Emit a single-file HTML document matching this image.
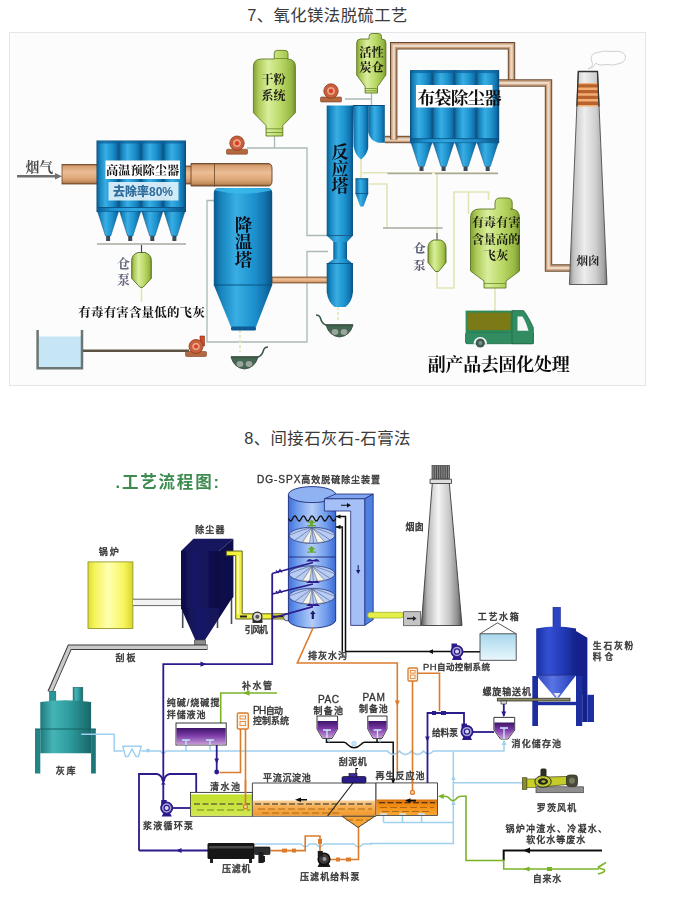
<!DOCTYPE html>
<html lang="zh-CN"><head><meta charset="utf-8"><title>脱硫工艺</title>
<style>
html,body{margin:0;padding:0;background:#fff;}
body{width:693px;height:912px;overflow:hidden;position:relative;font-family:'Liberation Sans','Noto Sans CJK SC',sans-serif;}
svg{position:absolute;left:0;top:0;display:block;}
.t{font-family:'Liberation Sans','Noto Sans CJK SC',sans-serif;}
.s{font-family:'Liberation Serif','Noto Serif CJK SC',serif;font-weight:700;}
.h{position:absolute;left:0;width:655px;text-align:center;font-size:16.4px;color:#3a3a3a;letter-spacing:0.4px;white-space:nowrap;line-height:20px;}
</style></head><body>
<div class="h" style="top:5px;">7、氧化镁法脱硫工艺</div>
<div class="h" style="top:428px;">8、间接石灰石-石膏法</div>
<svg width="693" height="912" viewBox="0 0 693 912">
<defs>
<linearGradient id="bl" x1="0" x2="1" y1="0" y2="0"><stop offset="0" stop-color="#0b5a8c"/><stop offset="0.12" stop-color="#1682bc"/><stop offset="0.38" stop-color="#38aee4"/><stop offset="0.7" stop-color="#1c90cc"/><stop offset="0.9" stop-color="#106ea8"/><stop offset="1" stop-color="#0a507e"/></linearGradient>
<linearGradient id="bl2" x1="0" x2="1" y1="0" y2="0"><stop offset="0" stop-color="#0b5e92"/><stop offset="0.15" stop-color="#1a8ecc"/><stop offset="0.4" stop-color="#30a8e2"/><stop offset="0.75" stop-color="#1a88c6"/><stop offset="1" stop-color="#0a5486"/></linearGradient>
<linearGradient id="gr" x1="0" x2="1" y1="0" y2="0"><stop offset="0" stop-color="#84a036"/><stop offset="0.12" stop-color="#adca58"/><stop offset="0.35" stop-color="#d8ee9c"/><stop offset="0.65" stop-color="#bad866"/><stop offset="0.9" stop-color="#98b844"/><stop offset="1" stop-color="#76922c"/></linearGradient>
<linearGradient id="br" x1="0" x2="0" y1="0" y2="1"><stop offset="0" stop-color="#94643c"/><stop offset="0.1" stop-color="#d8a072"/><stop offset="0.4" stop-color="#ecbd94"/><stop offset="0.7" stop-color="#dfa87a"/><stop offset="0.9" stop-color="#c38c5c"/><stop offset="1" stop-color="#86562e"/></linearGradient>
<linearGradient id="ch" x1="0" x2="1" y1="0" y2="0"><stop offset="0" stop-color="#8a8a8a"/><stop offset="0.12" stop-color="#c4c4c4"/><stop offset="0.4" stop-color="#ededed"/><stop offset="0.7" stop-color="#cfcfcf"/><stop offset="0.92" stop-color="#a2a2a2"/><stop offset="1" stop-color="#6a6a6a"/></linearGradient>
<filter id="soft" x="0" y="0" width="693" height="912" filterUnits="userSpaceOnUse"><feGaussianBlur stdDeviation="0.5"/></filter>
</defs>

<rect x="9.5" y="32.5" width="636" height="353" fill="#fdfcfd" stroke="#e7e6e6" stroke-width="1"/>
<g id="d1" filter="url(#soft)">
<g fill="none" stroke="#a9b9b4" stroke-width="1.3">
<path d="M214 200.5H207V342H307V251.5H328"/>
<path d="M247 148H307V235.5H328"/>
<path d="M274.5 136V148"/>
<path d="M345 99H371.5V106 M371.5 92V106"/>
</g>
<g fill="none" stroke="#e3e4b4" stroke-width="1.6">
<path d="M361 158V179 M362 172.800H498 M437 172.5V238 M369 184H387V228 M437 271V288H454V192H488.5V200 M468.5 192V214 M495 288V311"/>
<path d="M141.5 286V302"/>
<path d="M240 330V352 M338 307V322" stroke-dasharray="3 2"/>
</g>
<g fill="none" stroke="#a8a8a0" stroke-width="1.4">
<path d="M97 244H186 M387.5 173.5H432 M435 173.5H498 M383 228H442.5"/>
</g>
<text x="25.500" y="171.600" class="s" font-size="13.8" fill="#4a4a4a">烟气</text>
<path d="M17 176.300H57" stroke="#6e6e6e" stroke-width="2.6"/><path d="M55 173L62 176.300L55 179.600Z" fill="#6e6e6e"/>
<rect x="62" y="164.5" width="36" height="19.5" fill="url(#br)" stroke="#6a4424" stroke-width="0.8"/>
<rect x="185" y="166" width="8" height="18" fill="url(#br)" stroke="#6a4424" stroke-width="0.8"/>
<path d="M191 163.500H268Q272 163.500 272 168V181Q272 186 268 186H191Z" fill="url(#br)" stroke="#6a4424" stroke-width="0.9"/>
<path d="M214.5 163.5V186.500" stroke="#6a4424" stroke-width="0.8"/>
<rect x="272" y="277" width="56" height="6" fill="url(#br)" stroke="#6a4424" stroke-width="0.7"/>
<rect x="96.5" y="140.5" width="89.5" height="71.5" fill="#0a4a7c"/>
<rect x="97.0" y="141" width="22.1" height="70.5" fill="url(#bl)"/>
<rect x="119.1" y="141" width="22.1" height="70.5" fill="url(#bl)"/>
<rect x="141.2" y="141" width="22.1" height="70.5" fill="url(#bl)"/>
<rect x="163.4" y="141" width="22.1" height="70.5" fill="url(#bl)"/>
<rect x="97" y="141" width="88.5" height="2.5" fill="#0d5f9a" opacity="0.7"/>
<rect x="97" y="207.5" width="88.5" height="4" fill="url(#bl2)"/>
<path d="M97 207.5H185.5" stroke="#0a4a7c" stroke-width="0.8"/>
<path d="M97.6 211.5H118.5L110.7 236H105.5Z" fill="url(#bl)" stroke="#0a4a7c" stroke-width="0.5"/>
<rect x="106.1" y="236" width="4" height="5" fill="#3b4a58"/>
<path d="M119.7 211.5H140.7L132.8 236H127.6Z" fill="url(#bl)" stroke="#0a4a7c" stroke-width="0.5"/>
<rect x="128.2" y="236" width="4" height="5" fill="#3b4a58"/>
<path d="M141.8 211.5H162.8L154.9 236H149.7Z" fill="url(#bl)" stroke="#0a4a7c" stroke-width="0.5"/>
<rect x="150.3" y="236" width="4" height="5" fill="#3b4a58"/>
<path d="M164.0 211.5H184.9L177.0 236H171.8Z" fill="url(#bl)" stroke="#0a4a7c" stroke-width="0.5"/>
<rect x="172.4" y="236" width="4" height="5" fill="#3b4a58"/>
<rect x="105.5" y="160.5" width="74.5" height="18.5" fill="#fff"/>
<text x="142.6" y="174.6" text-anchor="middle" class="s" font-size="12.2" fill="#111">高温预除尘器</text>
<rect x="108.5" y="182" width="70" height="18.5" fill="#dff0fa" opacity="0.93"/>
<text x="143" y="196.2" text-anchor="middle" class="t" font-weight="900" font-size="12" fill="#2e6c9c">去除率80%</text>
<path d="M138.0 252.5H145.0Q151.3 254.5 151.3 260.5V278.3L143.0 287.3H140.0L131.7 278.3V260.5Q131.7 254.5 138.0 252.5Z" fill="url(#gr)" stroke="#4f6a22" stroke-width="0.9" stroke-linejoin="round"/>
<path d="M141.5 245V253" stroke="#445" stroke-width="1.2"/>
<text x="123.500" y="267.700" text-anchor="middle" class="s" font-weight="900" font-size="13" fill="#666a7e">仓</text><text x="123.500" y="284" text-anchor="middle" class="s" font-weight="900" font-size="13" fill="#666a7e">泵</text>
<text x="78.300" y="317.300" class="s" font-size="12.5" fill="#111" textLength="126.500" lengthAdjust="spacing">有毒有害含量低的飞灰</text>
<rect x="38.500" y="336.500" width="43" height="31" fill="#c6e6f6"/>
<path d="M37.600 330V368.300H82V330" fill="none" stroke="#6c7474" stroke-width="2.5"/>
<path d="M83 350.800H189" stroke="#5c5344" stroke-width="2.5"/>
<rect x="226.5" y="149.2" width="21" height="5" rx="1" fill="#b4683e" stroke="#7a4226" stroke-width="0.6"/>
<circle cx="237" cy="143.2" r="7.2" fill="#c9603c" stroke="#8a3a1c" stroke-width="0.8"/>
<circle cx="237" cy="143.2" r="4.5" fill="#eaa384" stroke="#b8482a" stroke-width="0.7"/>
<circle cx="237" cy="143.2" r="2.2" fill="#dc4028"/>
<rect x="320.5" y="97.0" width="21" height="5" rx="1" fill="#b4683e" stroke="#7a4226" stroke-width="0.6"/>
<circle cx="331" cy="91" r="7.2" fill="#c9603c" stroke="#8a3a1c" stroke-width="0.8"/>
<circle cx="331" cy="91" r="4.5" fill="#eaa384" stroke="#b8482a" stroke-width="0.7"/>
<circle cx="331" cy="91" r="2.2" fill="#dc4028"/>
<path d="M200 336H204.500V346H200Z" fill="#cf4a2a" stroke="#8a2c14" stroke-width="0.6"/>
<rect x="185.5" y="351.5" width="21" height="5" rx="1" fill="#b4683e" stroke="#7a4226" stroke-width="0.6"/>
<circle cx="196" cy="346.5" r="7" fill="#c9603c" stroke="#8a3a1c" stroke-width="0.8"/>
<circle cx="196" cy="346.5" r="4.3" fill="#eaa384" stroke="#b8482a" stroke-width="0.7"/>
<circle cx="196" cy="346.5" r="2.1" fill="#dc4028"/>
<path d="M213.800 193Q213.800 188 219 188H267Q272.200 188 272.200 193V285H213.800Z" fill="url(#bl)"/>
<path d="M215 190.500Q215 188.300 219 188.300H267Q271 188.300 271 190.500Q243 197 215 190.500Z" fill="#3ab8ea" opacity="0.85"/>
<path d="M213.800 285H272.200L256 327H231Z" fill="url(#bl)"/>
<path d="M213.800 285H272.200" stroke="#0a4a7c" stroke-width="0.9"/>
<rect x="231" y="326.500" width="25" height="4" rx="1.5" fill="#0c5a94"/>
<text x="243.5" y="230.5" text-anchor="middle" class="s" font-size="17.5" fill="#0c0c14">降</text>
<text x="243.5" y="248.1" text-anchor="middle" class="s" font-size="17.5" fill="#0c0c14">温</text>
<text x="243.5" y="265.7" text-anchor="middle" class="s" font-size="17.5" fill="#0c0c14">塔</text>
<path d="M231 357H258Q262 356 264 349Q265 347 268 347" fill="none" stroke="#3e5848" stroke-width="1.6"/>
<path d="M231 357H258Q255 368 244.5 369Q234 368 231 357Z" fill="#456652" stroke="#2c4034" stroke-width="0.8"/>
<ellipse cx="240" cy="364" rx="3.4" ry="3" fill="#9aa49c"/><ellipse cx="249" cy="364" rx="3.4" ry="3" fill="#9aa49c"/>
<path d="M353 325H326Q322 324 320 317Q319 315 316 315" fill="none" stroke="#3e5848" stroke-width="1.6"/>
<path d="M353 325H326Q329 336 339.5 337Q350 336 353 325Z" fill="#456652" stroke="#2c4034" stroke-width="0.8"/>
<ellipse cx="335" cy="332" rx="3.4" ry="3" fill="#9aa49c"/><ellipse cx="344" cy="332" rx="3.4" ry="3" fill="#9aa49c"/>
<rect x="326.7" y="105.5" width="26.3" height="130" fill="url(#bl)"/>
<path d="M326.7 235.5H353L347 242V259L353 264H326.7L333.5 259V242Z" fill="url(#bl)"/>
<rect x="333.5" y="242" width="13.5" height="17" fill="url(#bl)"/>
<path d="M326.7 263.5H353V292Q352 302 345.5 307H334.5Q328 302 326.7 292Z" fill="url(#bl)"/>
<path d="M326.7 235.5H353 M326.7 263.5H353" stroke="#0a4a7c" stroke-width="0.8"/>
<text x="340" y="158.0" text-anchor="middle" class="s" font-size="17" fill="#0c0c14">反</text>
<text x="340" y="175.2" text-anchor="middle" class="s" font-size="17" fill="#0c0c14">应</text>
<text x="340" y="192.4" text-anchor="middle" class="s" font-size="17" fill="#0c0c14">塔</text>
<path d="M353 105.5H368.2V148Q367 155 361 159.5Q355 155 353.5 146Z" fill="url(#bl)"/>
<path d="M368.2 105.5H384.8V142.7H378Q370 141 368.2 132Z" fill="url(#bl)"/>
<path d="M353 105.5H384.8" stroke="#0a4a7c" stroke-width="1"/>
<rect x="355.5" y="178.4" width="12.7" height="15.5" fill="url(#bl)"/><path d="M355.5 193.5H368.2L363.5 206.5H360.2Z" fill="url(#bl)"/><path d="M355.5 178.8H368.2 M355.5 193.5H368.2" stroke="#0a4a7c" stroke-width="0.8"/>
<path d="M274.2 59V53.4Q274.2 50.4 277.2 50.4H284.99999999999994Q287.99999999999994 50.4 287.99999999999994 53.4V59L287.4 59Q295.4 59 295.4 67V112.7L282.79999999999995 125.5V136H266.0V125.5L253.39999999999998 112.7V67Q253.39999999999998 59 261.4 59Z" fill="url(#gr)" stroke="#5f7b22" stroke-width="0.9"/>
<path d="M274.2 58.5H288 M266 128.800H282.8 M266 132.500H282.8" stroke="#6a8a28" stroke-width="0.8" fill="none"/>
<text x="273.600" y="83.600" text-anchor="middle" class="s" font-size="12" fill="#1a1a10">干粉</text><text x="273.600" y="99.800" text-anchor="middle" class="s" font-size="12" fill="#1a1a10">系统</text>
<path d="M369.1 39V36.5Q369.1 33.5 372.1 33.5H378.5Q381.5 33.5 381.5 36.5V39L381.90000000000003 39Q385.90000000000003 39 385.90000000000003 43V75L377.5 86.5V93H365.1V86.5L356.7 75V43Q356.7 39 360.7 39Z" fill="url(#gr)" stroke="#5f7b22" stroke-width="0.9"/>
<path d="M365.1 88.5H377.5 M365.1 90.800H377.5" stroke="#6a8a28" stroke-width="0.8" fill="none"/>
<text x="371.600" y="57" text-anchor="middle" class="s" font-size="12.3" fill="#1a1a10">活性</text><text x="371.600" y="72.300" text-anchor="middle" class="s" font-size="12.3" fill="#1a1a10">炭仓</text>
<path d="M385 139.5H411" fill="none" stroke="#6a4a30" stroke-width="7.4" stroke-linejoin="miter"/>
<path d="M385 139.5H411" fill="none" stroke="#c99f7c" stroke-width="5.4" stroke-linejoin="miter"/>
<path d="M385 139.5H411" fill="none" stroke="#ecd9c6" stroke-width="2.4000000000000004" stroke-linejoin="miter"/>
<path d="M393.700 139.500V45.700H511.5V84" fill="none" stroke="#6a4a30" stroke-width="7.4" stroke-linejoin="miter"/>
<path d="M393.700 139.500V45.700H511.5V84" fill="none" stroke="#c99f7c" stroke-width="5.4" stroke-linejoin="miter"/>
<path d="M393.700 139.500V45.700H511.5V84" fill="none" stroke="#ecd9c6" stroke-width="2.4000000000000004" stroke-linejoin="miter"/>
<path d="M498 83H548.500V268H571" fill="none" stroke="#6a4a30" stroke-width="7.4" stroke-linejoin="miter"/>
<path d="M498 83H548.500V268H571" fill="none" stroke="#c99f7c" stroke-width="5.4" stroke-linejoin="miter"/>
<path d="M498 83H548.500V268H571" fill="none" stroke="#ecd9c6" stroke-width="2.4000000000000004" stroke-linejoin="miter"/>
<rect x="410.0" y="70.1" width="89.2" height="73.1" fill="#0a4a7c"/>
<rect x="410.5" y="70.6" width="22.1" height="72.1" fill="url(#bl)"/>
<rect x="432.6" y="70.6" width="22.1" height="72.1" fill="url(#bl)"/>
<rect x="454.6" y="70.6" width="22.1" height="72.1" fill="url(#bl)"/>
<rect x="476.6" y="70.6" width="22.1" height="72.1" fill="url(#bl)"/>
<rect x="410.5" y="70.6" width="88.2" height="2.5" fill="#0d5f9a" opacity="0.7"/>
<rect x="410.5" y="138.7" width="88.2" height="4" fill="url(#bl2)"/>
<path d="M410.5 138.7H498.7" stroke="#0a4a7c" stroke-width="0.8"/>
<path d="M411.1 142.7H431.9L424.1 166.5H418.9Z" fill="url(#bl)" stroke="#0a4a7c" stroke-width="0.5"/>
<rect x="419.5" y="166.5" width="4" height="4.5" fill="#3b4a58"/>
<path d="M433.2 142.7H454.0L446.2 166.5H441.0Z" fill="url(#bl)" stroke="#0a4a7c" stroke-width="0.5"/>
<rect x="441.6" y="166.5" width="4" height="4.5" fill="#3b4a58"/>
<path d="M455.2 142.7H476.1L468.2 166.5H463.0Z" fill="url(#bl)" stroke="#0a4a7c" stroke-width="0.5"/>
<rect x="463.6" y="166.5" width="4" height="4.5" fill="#3b4a58"/>
<path d="M477.2 142.7H498.1L490.3 166.5H485.1Z" fill="url(#bl)" stroke="#0a4a7c" stroke-width="0.5"/>
<rect x="485.7" y="166.5" width="4" height="4.5" fill="#3b4a58"/>
<rect x="416" y="85" width="76.500" height="22.500" fill="#fff"/>
<text x="417.500" y="103.800" class="s" font-size="17.6" fill="#111" textLength="84" lengthAdjust="spacing">布袋除尘器</text>
<path d="M588 69Q594 66 592 62Q589 56 595 53Q604 50 612 51.500Q622 50 625 55Q627 61 620 63.500Q612 66 606 64.500Q599 66 596 63Q594 68 588 69Z" fill="#fdfdfd" stroke="#cfcfcf" stroke-width="1"/>
<path d="M578.3 71.5H597.5L607 284.5H569.4Z" fill="url(#ch)" stroke="#4e4e4e" stroke-width="0.9"/>
<path d="M577.800 83H598V106.500H576.900Z" fill="#f2ae74"/>
<path d="M577.8 84.2H598.1V87.5H577.6Z" fill="#b9622e"/>
<path d="M577.5 90H598.3V93.3H577.4Z" fill="#b9622e"/>
<path d="M577.3 95.8H598.6V99.1H577.1Z" fill="#b9622e"/>
<path d="M577.0 101.6H598.8V104.89999999999999H576.9Z" fill="#b9622e"/>
<path d="M576.900 106.500L578.3 71.5H597.5L599 106.500" fill="none" stroke="#333" stroke-width="1.3"/>
<text x="588" y="264.5" text-anchor="middle" class="s" font-size="11.5" fill="#222">烟囱</text>
<path d="M495.0 209V203Q495.0 198 500.0 198H507.20000000000005Q512.2 198 512.2 203V209L510.5 209Q519.5 209 519.5 218V271L506 281V288H484V281L470.5 271V218Q470.5 209 479.5 209Z" fill="url(#gr)" stroke="#5f7b22" stroke-width="0.9"/>
<path d="M484 283.5H506" stroke="#6a8a28" stroke-width="0.8" fill="none"/>
<text x="496" y="226.8" text-anchor="middle" class="s" font-size="12.2" fill="#1a1a10">有毒有害</text>
<text x="496" y="243.6" text-anchor="middle" class="s" font-size="12.2" fill="#1a1a10">含量高的</text>
<text x="496" y="260.4" text-anchor="middle" class="s" font-size="12.2" fill="#1a1a10">飞灰</text>
<path d="M433.5 240H440.5Q446 242 446 248V262.5L438.5 271.5H435.5L428 262.5V248Q428 242 433.5 240Z" fill="url(#gr)" stroke="#4f6a22" stroke-width="0.9" stroke-linejoin="round"/>
<path d="M437 233V240" stroke="#445" stroke-width="1"/>
<text x="419.5" y="253.300" text-anchor="middle" class="s" font-weight="900" font-size="12.5" fill="#5c5c74">仓</text><text x="419.5" y="270" text-anchor="middle" class="s" font-weight="900" font-size="12.5" fill="#5c5c74">泵</text>
<rect x="465.600" y="332" width="67.700" height="11.700" rx="1.5" fill="#318c62" stroke="#1f6a46" stroke-width="0.8"/>
<rect x="466.600" y="311.600" width="45" height="19.500" fill="#7c7a14" stroke="#2f8a5a" stroke-width="2"/>
<path d="M512 310.600H523.600Q528 316 533.300 327.500V343.700H512Z" fill="#318c62" stroke="#1f6a46" stroke-width="0.8"/>
<path d="M517.500 316.600H522.500Q526 322 528.500 330.700H517.500Z" fill="#f4f8f6"/>
<path d="M473.500 343.700A6.800 6.800 0 0 1 487.100 343.700Z" fill="#fdfcfd"/><circle cx="480.300" cy="343" r="4.600" fill="#3c5a50"/><circle cx="480.300" cy="343" r="2" fill="#7a9488"/>
<text x="498.7" y="371" text-anchor="middle" class="s" font-size="18" fill="#111" textLength="142" lengthAdjust="spacing">副产品去固化处理</text>
</g>
<defs>
<linearGradient id="ye" x1="0" x2="1" y1="0" y2="0"><stop offset="0" stop-color="#dcdc38"/><stop offset="0.14" stop-color="#f4f458"/><stop offset="0.45" stop-color="#ffffb2"/><stop offset="0.8" stop-color="#f6f65c"/><stop offset="1" stop-color="#d6d62e"/></linearGradient>
<linearGradient id="nv" x1="0" x2="1" y1="0" y2="0"><stop offset="0" stop-color="#0d0d42"/><stop offset="0.35" stop-color="#18186a"/><stop offset="0.7" stop-color="#121256"/><stop offset="1" stop-color="#0c0c40"/></linearGradient>
<linearGradient id="tw" x1="0" x2="1" y1="0" y2="0"><stop offset="0" stop-color="#3e6fd8"/><stop offset="0.18" stop-color="#6c9aec"/><stop offset="0.5" stop-color="#b4cdf8"/><stop offset="0.8" stop-color="#6f9cec"/><stop offset="1" stop-color="#3a68d2"/></linearGradient>
<linearGradient id="tl" x1="0" x2="1" y1="0" y2="0"><stop offset="0" stop-color="#1f7a7c"/><stop offset="0.25" stop-color="#46b4b6"/><stop offset="0.6" stop-color="#2c9a9c"/><stop offset="1" stop-color="#196668"/></linearGradient>
<linearGradient id="rb" x1="0" x2="1" y1="0" y2="0"><stop offset="0" stop-color="#1a2fa0"/><stop offset="0.3" stop-color="#3450d4"/><stop offset="0.7" stop-color="#2238b4"/><stop offset="1" stop-color="#14248a"/></linearGradient>
<linearGradient id="rb2" x1="0" x2="1" y1="0" y2="0"><stop offset="0" stop-color="#2a40b8"/><stop offset="0.4" stop-color="#5a74e4"/><stop offset="0.75" stop-color="#3a54cc"/><stop offset="1" stop-color="#2034a4"/></linearGradient>
<linearGradient id="cg" x1="0" x2="1" y1="0" y2="0"><stop offset="0" stop-color="#5a5a5a"/><stop offset="0.15" stop-color="#b8b8b8"/><stop offset="0.42" stop-color="#f4f4f4"/><stop offset="0.7" stop-color="#c6c6c6"/><stop offset="0.9" stop-color="#8a8a8a"/><stop offset="1" stop-color="#505050"/></linearGradient>
<linearGradient id="pu" x1="0" x2="0" y1="0" y2="1"><stop offset="0" stop-color="#3e1466"/><stop offset="0.45" stop-color="#7a3aa6"/><stop offset="1" stop-color="#c89ad8"/></linearGradient>
<linearGradient id="og" x1="0" x2="0" y1="0" y2="1"><stop offset="0" stop-color="#f8d09a"/><stop offset="0.45" stop-color="#f5ad50"/><stop offset="1" stop-color="#f2982a"/></linearGradient>
<linearGradient id="og2" x1="0" x2="0" y1="0" y2="1"><stop offset="0" stop-color="#d9700a"/><stop offset="0.35" stop-color="#f28a12"/><stop offset="1" stop-color="#f9a732"/></linearGradient>
<linearGradient id="yg" x1="0" x2="0" y1="0" y2="1"><stop offset="0" stop-color="#c2de2c"/><stop offset="1" stop-color="#d2e850"/></linearGradient>
<linearGradient id="wt" x1="0" x2="0" y1="0" y2="1"><stop offset="0" stop-color="#a8d8ee"/><stop offset="1" stop-color="#eaf7fc"/></linearGradient>
<linearGradient id="yp" x1="0" x2="1" y1="0" y2="0"><stop offset="0" stop-color="#dede28"/><stop offset="0.4" stop-color="#ffff8a"/><stop offset="1" stop-color="#d0d020"/></linearGradient>
<linearGradient id="ypv" x1="0" x2="0" y1="0" y2="1"><stop offset="0" stop-color="#dede28"/><stop offset="0.4" stop-color="#ffff8a"/><stop offset="1" stop-color="#d0d020"/></linearGradient>
</defs>
<g id="d2" filter="url(#soft)">
<text x="115.500" y="488.300" class="t" font-weight="700" font-size="16.5" fill="#3d8c50" textLength="103.500" lengthAdjust="spacing">.工艺流程图:</text>
<rect x="88" y="561.9" width="44.900" height="66.600" fill="url(#ye)" stroke="#8c8c1c" stroke-width="0.8"/>
<rect x="133" y="599.2" width="48" height="6.400" fill="#f2f2f2"/><path d="M133 599.2H181 M133 605.6H181" stroke="#666" stroke-width="1"/>
<text x="98.7" y="555.2" class="t" font-weight="500" font-size="9.0" fill="#333" stroke="#333" stroke-width="0.3" textLength="20.0" lengthAdjust="spacing">锅炉</text>
<path d="M182.700 600V628 M217.500 604V628 M231.500 596V624" stroke="#4a4a5c" stroke-width="1.6"/>
<path d="M181 551L193.500 538.800H233.400L219 551Z" fill="#16165e"/>
<path d="M219 551L233.400 538.800V597L219 610Z" fill="#0e0e4a"/>
<rect x="181" y="551" width="38" height="58" fill="url(#nv)"/>
<path d="M181 608H219L233.400 596L205 640H195.300Z" fill="url(#nv)"/>
<rect x="194.400" y="640" width="11.2" height="5" fill="#8e8e8e" stroke="#444" stroke-width="0.6"/>
<text x="195.3" y="532.8" class="t" font-weight="500" font-size="9.0" fill="#333" stroke="#333" stroke-width="0.3" textLength="29.1" lengthAdjust="spacing">除尘器</text>
<path d="M207.500 647.200H69.700L50 692" fill="none" stroke="#3a3a3a" stroke-width="5.4" stroke-linejoin="miter"/>
<path d="M207 647.200H69.700L50 692.500" fill="none" stroke="#c9c9c9" stroke-width="3.4" stroke-linejoin="miter"/>
<text x="115.5" y="661.2" class="t" font-weight="500" font-size="9.0" fill="#333" stroke="#333" stroke-width="0.3" textLength="20.0" lengthAdjust="spacing">刮板</text>
<path d="M226.300 551H242.200V613.800H290V619H235.700V555.600H226.300Z" fill="#f2f23c" stroke="#55551a" stroke-width="0.9"/>
<path d="M238 556V614" stroke="#ffffa8" stroke-width="2"/>
<path d="M240 616.400H247 M272 616.400H283" stroke="#222" stroke-width="2"/>
<ellipse cx="287" cy="617.300" rx="3.5" ry="3.6" fill="#cfd6e6" stroke="#334" stroke-width="0.8"/>
<rect x="252.500" y="619.500" width="10" height="3.5" fill="#333"/>
<circle cx="257.300" cy="616.800" r="4.6" fill="#d8d8d8" stroke="#222" stroke-width="1.2"/><circle cx="257.300" cy="616.800" r="2" fill="#555"/>
<text x="244.8" y="632.7" class="t" font-weight="500" font-size="8.6" fill="#333" stroke="#333" stroke-width="0.3" textLength="23.0" lengthAdjust="spacing">引风机</text>
<path d="M288.400 495V620A23.650 8 0 0 0 335.700 620V495Z" fill="url(#tw)" stroke="#1c2a78" stroke-width="0.9"/>
<ellipse cx="312.050" cy="494.600" rx="23.650" ry="8" fill="#8fb2f2" stroke="#1c2a78" stroke-width="0.9"/>
<path d="M288.4 518.5 L289.4 520.2 L290.4 521.1 L291.4 520.7 L292.3 519.2 L293.3 517.4 L294.3 516.1 L295.3 516.0 L296.3 517.2 L297.3 519.0 L298.3 520.6 L299.2 521.1 L300.2 520.3 L301.2 518.7 L302.2 516.9 L303.2 515.9 L304.2 516.2 L305.2 517.7 L306.1 519.5 L307.1 520.8 L308.1 521.0 L309.1 519.9 L310.1 518.2 L311.1 516.5 L312.0 515.9 L313.0 516.5 L314.0 518.2 L315.0 519.9 L316.0 521.0 L317.0 520.8 L318.0 519.5 L318.9 517.7 L319.9 516.2 L320.9 515.9 L321.9 516.9 L322.9 518.7 L323.9 520.3 L324.9 521.1 L325.8 520.6 L326.8 519.0 L327.8 517.2 L328.8 516.0 L329.8 516.1 L330.8 517.4 L331.8 519.2 L332.7 520.7 L333.7 521.1 L334.7 520.2 L335.7 518.5" fill="none" stroke="#111" stroke-width="1.3"/>
<path d="M288.400 557H335.700" stroke="#1c2a78" stroke-width="0.9"/>
<ellipse cx="312" cy="535.3" rx="22.8" ry="8" fill="#b9cdf4" stroke="#2a3a80" stroke-width="0.8"/>
<path d="M312 527.8L302.5 542.2L309.5 542.9Z" fill="#f4f6ee" stroke="#555" stroke-width="0.5"/>
<path d="M312 527.8L317.5 542.7L324.5 541.7Z" fill="#f4f6ee" stroke="#555" stroke-width="0.5"/>
<path d="M289.2 535.3Q304 528.8 312 527.8Q320 528.8 334.8 535.3 M312 527.8L295 540.3 M312 527.8L330 539.8 M312 527.8L313.5 543.3" fill="none" stroke="#4a5a90" stroke-width="0.6"/>
<ellipse cx="312" cy="573.8" rx="22.8" ry="8" fill="#b9cdf4" stroke="#2a3a80" stroke-width="0.8"/>
<path d="M312 566.3L302.5 580.7L309.5 581.4Z" fill="#f4f6ee" stroke="#555" stroke-width="0.5"/>
<path d="M312 566.3L317.5 581.2L324.5 580.2Z" fill="#f4f6ee" stroke="#555" stroke-width="0.5"/>
<path d="M289.2 573.8Q304 567.3 312 566.3Q320 567.3 334.8 573.8 M312 566.3L295 578.8 M312 566.3L330 578.3 M312 566.3L313.5 581.8" fill="none" stroke="#4a5a90" stroke-width="0.6"/>
<ellipse cx="312" cy="596.3" rx="22.8" ry="8" fill="#b9cdf4" stroke="#2a3a80" stroke-width="0.8"/>
<path d="M312 588.8L302.5 603.2L309.5 603.9Z" fill="#f4f6ee" stroke="#555" stroke-width="0.5"/>
<path d="M312 588.8L317.5 603.7L324.5 602.7Z" fill="#f4f6ee" stroke="#555" stroke-width="0.5"/>
<path d="M289.2 596.3Q304 589.8 312 588.8Q320 589.8 334.8 596.3 M312 588.8L295 601.3 M312 588.8L330 600.8 M312 588.8L313.5 604.3" fill="none" stroke="#4a5a90" stroke-width="0.6"/>
<path d="M311.600 519.5L315.600 523H313.200V525H316V526.4H307.200V525H310V523H307.600Z" fill="#66a830"/>
<path d="M311.600 545.9L315.600 549.4H313.200V551.4H316V552.8H307.200V551.4H310V549.4H307.600Z" fill="#66a830"/>
<path d="M312.800 610.500L315.600 614H313.900V619H311.700V614H310Z" fill="#1a1a6a"/>
<path d="M335.700 494H373.200L364.700 498.800H324.400Z" fill="#7ea4ee" stroke="#1c2a78" stroke-width="0.8"/>
<path d="M364.700 498.800L373.200 494V619.800L364.700 625.400Z" fill="#4f7fe0" stroke="#1c2a78" stroke-width="0.8"/>
<path d="M324.400 498.800H364.700V625.400H350.700V511H324.400Z" fill="#a4c0f6" stroke="#1c2a78" stroke-width="0.8"/>
<path d="M341 504.800H347V503L351 505.300L347 507.600V505.800H341Z" fill="#111"/>
<path d="M357.700 565V570H356L358.200 574L360.400 570H358.700V565Z" fill="#1a1a6a"/>
<rect x="367.600" y="612.300" width="36" height="5.7" rx="2.8" fill="#e4f04a" stroke="#9aa82a" stroke-width="0.7"/>
<rect x="403.600" y="611.700" width="17" height="14" fill="#c4c4c4" stroke="#555" stroke-width="0.8"/>
<path d="M407 617.800H413V616L416.500 618.500L413 621V619.200H407Z" fill="#222"/>
<path d="M432.300 483H449.300L462 625.500H421.300Z" fill="url(#cg)" stroke="#3c3c3c" stroke-width="0.9"/>
<rect x="432" y="465.600" width="17.400" height="13.600" fill="#8a8a8a" stroke="#333" stroke-width="0.7"/>
<path d="M434.200 466V479 M436.400 466V479 M438.600 466V479 M440.800 466V479 M443 466V479 M445.200 466V479 M447.400 466V479" stroke="#333" stroke-width="0.8"/>
<path d="M430 479.200H451.500V483.500H430Z" fill="#ddd" stroke="#333" stroke-width="0.8"/>
<text x="405.6" y="529.9" class="t" font-weight="500" font-size="9" fill="#333" stroke="#333" stroke-width="0.3" textLength="18.1" lengthAdjust="spacing">烟囱</text>
<text x="257" y="482.9" class="t" font-weight="500" font-size="9.0" fill="#333" stroke="#333" stroke-width="0.3" textLength="123.0" lengthAdjust="spacing"><tspan font-size="10.1">DG-SPX</tspan>高效脱硫除尘装置</text>
<g fill="none" stroke="#111" stroke-width="1.5">
<path d="M336 516.600H345.500V651.500H451"/><path d="M336 527H342.300V651"/>
<path d="M463 651.800H480"/>
<path d="M326.500 738.500V742.300H344Q346 742.300 347.500 744.500Q354 751 361 744.500Q362.500 742.300 364.600 742.300H393.200V783 M377 738.500V742.300"/>
<path d="M503.700 860.500V850.400H602" stroke-width="2"/>
</g>
<path d="M336 516.600L340.500 514.400V518.800Z M336 527L340.500 524.800V529.200Z M428 651.600L433 649.200V654Z M393.200 784L390.800 778.500H395.600Z M523 850.400L530 847.400V853.400Z" fill="#111"/>
<path d="M452 660.0L454 655.5H460L462 660.0Z" fill="#2a1a8c"/>
<rect x="451.5" y="643.5" width="5.500" height="5" fill="#2a1a8c"/>
<circle cx="457" cy="651.5" r="5.600" fill="#a9a6d4" stroke="#2a1a8c" stroke-width="1.800"/><circle cx="457" cy="651.5" r="2.600" fill="#d8d6ee" stroke="#2a1a8c" stroke-width="1.200"/>
<path d="M480 633.800L497.500 622.800L516.200 633.800" fill="#fff" stroke="#444" stroke-width="0.9"/>
<rect x="480" y="633.800" width="36.200" height="26.500" fill="url(#wt)" stroke="#444" stroke-width="0.9"/>
<text x="477.8" y="620.2" class="t" font-weight="500" font-size="9.0" fill="#333" stroke="#333" stroke-width="0.3" textLength="41.0" lengthAdjust="spacing">工艺水箱</text>
<path d="M576 631L587.400 637.700V722H582.200V694.800 L576 690Z" fill="#14248c"/>
<rect x="587.400" y="694.800" width="6.6" height="27.200" fill="#1a2ea0"/>
<rect x="532.300" y="676" width="5.7" height="50" fill="#1a2ea0"/><rect x="576" y="676" width="6.2" height="50" fill="#1a2ea0"/>
<rect x="538" y="701.800" width="38" height="3.400" fill="#1a2ea0"/>
<rect x="553" y="607.300" width="7.400" height="21" fill="#2a44c4" stroke="#14248c" stroke-width="0.6"/>
<path d="M536.200 628.500Q556 624.500 576 628.500V675.300H536.200Z" fill="url(#rb)"/>
<path d="M536.200 675.300H576L559 697.400H555Z" fill="url(#rb2)"/>
<path d="M536.200 675.300H576" stroke="#101c78" stroke-width="0.7"/>
<path d="M553.500 693L557 698L560.500 693Z" fill="#e8e8f4"/>
<text x="592.8" y="649.4" class="t" font-weight="500" font-size="8.8" fill="#333" stroke="#333" stroke-width="0.3" textLength="40.6" lengthAdjust="spacing">生石灰粉</text>
<text x="592.8" y="660.2" class="t" font-weight="500" font-size="8.8" fill="#333" stroke="#333" stroke-width="0.3" textLength="20.4" lengthAdjust="spacing">料仓</text>
<rect x="497.300" y="698.200" width="72.700" height="2.8" fill="#8c8c64" stroke="#222" stroke-width="0.7"/>
<rect x="501" y="701" width="5.400" height="3" fill="#ddd" stroke="#222" stroke-width="0.6"/>
<text x="482.5" y="694.6" class="t" font-weight="500" font-size="9.0" fill="#333" stroke="#333" stroke-width="0.3" textLength="48.5" lengthAdjust="spacing">螺旋输送机</text>
<rect x="49.600" y="691.300" width="6.200" height="10" fill="#2a9496" stroke="#1a6668" stroke-width="0.6"/>
<rect x="73.100" y="687.300" width="9.700" height="14" fill="url(#tl)" stroke="#1a6668" stroke-width="0.6"/>
<rect x="35" y="729" width="5.300" height="44.500" fill="#238486"/><rect x="91.100" y="729" width="4.700" height="44.500" fill="#1d7678"/>
<path d="M40.300 702Q65 698.500 91.100 702V753.200H40.300Z" fill="url(#tl)"/>
<path d="M35 729H95.800" stroke="#176062" stroke-width="1.2"/>
<text x="55.8" y="774.4" class="t" font-weight="500" font-size="9.0" fill="#333" stroke="#333" stroke-width="0.3" textLength="19.6" lengthAdjust="spacing">灰库</text>
<g fill="none" stroke="#9fd0f0" stroke-width="1.5">
<path d="M81.200 734.200H114.200V751H122.800 M141.200 751H160.500Q163.300 755.500 166 751H387.500Q393 758 399.500 751Q405.500 758 411.500 751Q417.500 758 423.500 751Q428 756.500 433.500 751H504V741"/>
<path d="M122.800 746.200H141.200L138.500 756.600H136L132 749L128 756.600H125.500Z"/>
<path d="M453.300 751V843.500H370 M453.300 822.500H383.500 M383.500 822.500V815.500 M402.500 822.500V815.500 M421.600 822.500V815.500 M453.300 782.800H523"/>
<path d="M254.600 843.900H301Q305.200 849.500 309.500 843.900H316Q320 849.500 324 843.900H354Q358.500 849.500 363 843.900H372"/>
<path d="M186 751V745 M210 751V745 M329 742.300V738 M380 742.300V738"/>
</g>
<path d="M504 739.500L501.600 745H506.400Z M453.500 775L451.300 780H455.700Z M453.500 800L451.300 805H455.700Z" fill="#9fd0f0"/>
<circle cx="148" cy="750.500" r="2" fill="#9fd0f0"/><circle cx="354" cy="743.500" r="2.200" fill="#cfe8f8" stroke="#9fd0f0" stroke-width="0.8"/>
<g fill="none" stroke="#2a1a8c" stroke-width="1.8">
<path d="M272.200 573.500V664.200H163.300V802"/>
<path d="M272.200 573.500L313 562.500 M272.200 594L313 584 M272.200 618L313 606.600"/>
<path d="M139 850.500V774H157Q162 775 163.300 782 M196.200 792.400V774H169.600Q164.600 775 163.300 782"/>
<path d="M139 850.500H208"/>
<path d="M172 808H191.400"/>
<path d="M216.700 745V771.700"/>
<path d="M427.500 783V713H464V726"/>
<path d="M473 732H494"/>
<path d="M503.800 704V716"/>
</g>
<path d="M206.500 664.200L200.500 661.600V666.800Z M176 850.500L181.500 848.100V852.900Z M216.700 764L214.400 758.500H219Z M427.400 742L425.100 736.500H429.700Z M503.800 717L501.400 711.500H506.200Z M160.800 779.500H165.800L163.300 782L165.800 784.500H160.800L163.300 782Z" fill="#2a1a8c"/>
<path d="M276 570.500l2 2 2-3 2 3 M276 591l2 2 2-3 2 3" fill="none" stroke="#2a1a8c" stroke-width="1.2"/>
<circle cx="216.700" cy="772" r="2.400" fill="#2a1a8c"/>
<path d="M306 561.500l3-2.500 4 1 4-1 3 2.500Z M306 583l3-2.500 4 1 4-1 3 2.500Z M306 606l3-2.500 4 1 4-1 3 2.500Z" fill="#2a1a8c"/>
<rect x="441" y="711" width="5" height="4" fill="#2a1a8c"/><rect x="432" y="711" width="4" height="4" fill="#2a1a8c"/>
<g fill="none" stroke="#dc7c2c" stroke-width="1.6">
<path d="M313 628L297.300 663H397.300V773"/>
<path d="M245.500 729V806 M240.500 729V772.500H219.500"/>
<path d="M412.500 681V791 M417.500 673.300H439.500V711"/>
<path d="M358.500 827V859.500H330 M320 853V836H305.200V850.600H270.500"/>
</g>
<path d="M397.300 706L394.800 700.500H399.800Z" fill="#dc7c2c"/>
<rect x="237.300" y="713" width="11" height="16" rx="1.2" fill="#fdf4e8" stroke="#dc7c2c" stroke-width="1.3"/><rect x="240" y="716" width="5.600" height="3" fill="none" stroke="#dc7c2c" stroke-width="0.8"/><rect x="240" y="721.500" width="5.600" height="4" fill="none" stroke="#dc7c2c" stroke-width="0.8"/>
<rect x="408" y="668" width="9.500" height="13" rx="1.2" fill="#fdf4e8" stroke="#dc7c2c" stroke-width="1.3"/><rect x="410.300" y="670.500" width="4.800" height="2.600" fill="none" stroke="#dc7c2c" stroke-width="0.8"/><rect x="410.300" y="675" width="4.800" height="3.500" fill="none" stroke="#dc7c2c" stroke-width="0.8"/>
<g fill="#dc7c2c"><rect x="282" y="848.600" width="5" height="4"/><rect x="292" y="848.600" width="4" height="4"/><rect x="336" y="857.500" width="4" height="4"/><rect x="346" y="857.500" width="5" height="4"/><rect x="318" y="839" width="4" height="5"/></g>
<g fill="none" stroke="#78b428" stroke-width="1.6">
<path d="M277 693H220.700V724"/>
<path d="M441 796.300H444.600Q448 796.300 450 799Q453 802.500 456 799Q458 796.300 461.300 796.300H466V860.500H503.700V869H599 M606 862.500L598.500 867Q600 869 604 869.500Q606.500 872 598 874"/>
</g>
<path d="M243 693L249.500 690.300V695.700Z M437.800 796.300L443.800 793.700V798.900Z M523.500 869L529.500 866.600V871.400Z" fill="#78b428"/>
<rect x="547" y="867" width="5" height="4" fill="#78b428"/>
<rect x="176" y="723" width="50.19999999999999" height="22" fill="#fff" stroke="#222" stroke-width="0.9"/>
<rect x="176.5" y="728" width="49.19999999999999" height="16.5" fill="url(#pu)"/>
<path d="M182 740H190 M186 740V745 M206 740H214 M210 740V745" stroke="#bfe4f8" stroke-width="1.4" fill="none"/>
<path d="M317 716H337.6V729L332 738.4H322.5L317 729Z" fill="#fff" stroke="#222" stroke-width="0.9"/>
<path d="M317.5 721H337.1V729L331.7 737.9H322.8L317.5 729Z" fill="url(#pu)"/>
<path d="M367.8 716H387V729L382 738.4H373L367.8 729Z" fill="#fff" stroke="#222" stroke-width="0.9"/>
<path d="M368.3 721H386.5V729L381.7 737.9H373.3L368.3 729Z" fill="url(#pu)"/>
<path d="M493.9 717.4H514.7V730L508 739H500.5L493.9 730Z" fill="#fff" stroke="#222" stroke-width="0.9"/>
<path d="M494.4 722.4H514.2V730L507.7 738.5H500.8L494.4 730Z" fill="url(#pu)"/>
<path d="M323 730H331 M327 730V738 M373.500 730H381.500 M377.500 730V738 M500 728H508 M504 728V739" stroke="#cfeafc" stroke-width="1.3" fill="none"/>
<path d="M161.7 816.5L163.7 812H169.7L171.7 816.5Z" fill="#2a1a8c"/>
<rect x="161.2" y="800" width="5.500" height="5" fill="#2a1a8c"/>
<circle cx="166.7" cy="808" r="5.600" fill="#a9a6d4" stroke="#2a1a8c" stroke-width="1.800"/><circle cx="166.7" cy="808" r="2.600" fill="#d8d6ee" stroke="#2a1a8c" stroke-width="1.200"/>
<path d="M462 740.1L464 735.6H470L472 740.1Z" fill="#2a1a8c"/>
<rect x="461.5" y="723.6" width="5.500" height="5" fill="#2a1a8c"/>
<circle cx="467" cy="731.6" r="5.600" fill="#a9a6d4" stroke="#2a1a8c" stroke-width="1.800"/><circle cx="467" cy="731.6" r="2.600" fill="#d8d6ee" stroke="#2a1a8c" stroke-width="1.200"/>
<path d="M317.500 867L320 862H328L330.500 867Z" fill="#1c1c1c"/><circle cx="324" cy="859" r="5.800" fill="#3a3a3a" stroke="#111" stroke-width="1.6"/><circle cx="324.500" cy="859" r="2" fill="#999"/><rect x="317.800" y="851" width="5" height="5.500" fill="#1c1c1c"/>
<rect x="190.500" y="792.400" width="61.900" height="23.800" fill="#fff" stroke="#333" stroke-width="0.9"/>
<rect x="190.900" y="794.400" width="61.100" height="21.400" fill="url(#yg)"/>
<path d="M194 804H250" stroke="#333" stroke-width="1.1" stroke-dasharray="6 2.500"/><path d="M197 810H250" stroke="#6a8a20" stroke-width="1" stroke-dasharray="7 3"/>
<path d="M252.400 783H376V816.200H252.400Z" fill="#fff" stroke="#333" stroke-width="0.9"/>
<path d="M252.800 800.500H375.600V815.800H252.800Z" fill="url(#og)"/>
<path d="M342 816.200H375L358 827.500Z" fill="#f6a534" stroke="#333" stroke-width="0.9"/>
<path d="M376 782.900H437.500V815.400H376Z" fill="#fff" stroke="#333" stroke-width="0.9"/>
<path d="M376.400 799.500H437.100V815H376.400Z" fill="url(#og2)"/>
<path d="M255 804H374 M379 802.700H435" stroke="#222" stroke-width="1.1" stroke-dasharray="6 2.500"/>
<path d="M258 809H372 M262 813H340 M380 807.500H434 M382 811.500H432 M346 820H370" stroke="#a86410" stroke-width="0.9" stroke-dasharray="7 3"/>
<path d="M295 799.700L301 797.400V798.900H307V800.500H301V802Z M405 800.600L410.500 798.300V799.800H416V801.400H410.500V802.900Z" fill="#111"/>
<path d="M380 814H387 M399 814H406 M418 814H425" stroke="#cfeafc" stroke-width="1.6"/>
<path d="M245.500 780V805 M412.500 780V790.500" stroke="#dc7c2c" stroke-width="1.6" fill="none"/>
<circle cx="245.500" cy="806.700" r="2" fill="#f8d8a8" stroke="#dc7c2c" stroke-width="1.2"/><circle cx="412.500" cy="792.400" r="2" fill="#f8d8a8" stroke="#dc7c2c" stroke-width="1.2"/>
<path d="M353 783L327.600 816" stroke="#222" stroke-width="1.2"/>
<rect x="342" y="776.500" width="24" height="6.500" rx="1.500" fill="#2a1a8c" stroke="#111" stroke-width="0.7"/><rect x="349" y="773.500" width="8" height="3.500" fill="#3a2aa0" stroke="#111" stroke-width="0.6"/><path d="M356 774V768.500H358" stroke="#111" stroke-width="1.2" fill="none"/>
<rect x="210" y="858" width="3" height="5" fill="#222"/><rect x="249" y="858" width="3" height="5" fill="#222"/><rect x="262" y="856" width="3" height="6" fill="#222"/>
<rect x="207.500" y="843" width="47" height="16" rx="1.500" fill="#141414"/><rect x="209" y="846" width="44" height="2.500" fill="#4a4a4a"/>
<rect x="254.500" y="847" width="15.500" height="7.500" rx="1" fill="#2e2e2e" stroke="#111" stroke-width="0.7"/><rect x="258.400" y="852" width="5.200" height="11" fill="#1e1e1e"/>
<rect x="536" y="786.800" width="47.400" height="5.900" fill="#8e8e8e" stroke="#444" stroke-width="0.7"/>
<rect x="522.300" y="777.700" width="4.600" height="11.700" fill="#8a8c28" stroke="#3a3a1a" stroke-width="0.6"/>
<rect x="526.900" y="779" width="9" height="8.500" fill="#c9d228" stroke="#4a4a1a" stroke-width="0.6"/>
<path d="M547 777L567 776.500V784.500L547 786.500Z" fill="#c4cc2c" stroke="#3a3a1a" stroke-width="0.7"/>
<rect x="540.500" y="768.600" width="6" height="8" rx="1.500" fill="#2e2e24"/>
<ellipse cx="543" cy="781.500" rx="8.200" ry="5.800" fill="#bcc62a" stroke="#2a2a1a" stroke-width="1"/>
<ellipse cx="543" cy="781.500" rx="5" ry="3.200" fill="#22221a"/><ellipse cx="543.500" cy="781.500" rx="2.200" ry="1.300" fill="#b0b838"/>
<rect x="566.500" y="775" width="11" height="11.500" rx="3" fill="#4a4c38" stroke="#2a2a1a" stroke-width="0.7"/><circle cx="572" cy="780.800" r="3" fill="#77795e"/>
<text x="308" y="659.2" class="t" font-weight="500" font-size="9.0" fill="#333" stroke="#333" stroke-width="0.3" textLength="39.0" lengthAdjust="spacing">排灰水沟</text>
<text x="423" y="670.1" class="t" font-weight="500" font-size="8.5" fill="#333" stroke="#333" stroke-width="0.3" textLength="67.0" lengthAdjust="spacing"><tspan font-size="9.5">PH</tspan>自动控制系统</text>
<text x="242" y="688.6" class="t" font-weight="500" font-size="9.0" fill="#333" stroke="#333" stroke-width="0.3" textLength="30.0" lengthAdjust="spacing">补水管</text>
<text x="166.7" y="705.9" class="t" font-weight="500" font-size="9.0" fill="#333" stroke="#333" stroke-width="0.3" textLength="52.7" lengthAdjust="spacing">纯碱/烧碱搅</text>
<text x="166.7" y="717.6" class="t" font-weight="500" font-size="9.0" fill="#333" stroke="#333" stroke-width="0.3" textLength="38.8" lengthAdjust="spacing">拌储液池</text>
<text x="253" y="713.7" class="t" font-weight="500" font-size="9.0" fill="#333" stroke="#333" stroke-width="0.3" textLength="30.0" lengthAdjust="spacing"><tspan font-size="10.1">PH</tspan>自动</text>
<text x="253" y="724.2" class="t" font-weight="500" font-size="9.0" fill="#333" stroke="#333" stroke-width="0.3" textLength="36.0" lengthAdjust="spacing">控制系统</text>
<text x="318" y="703.2" class="t" font-weight="500" font-size="9.0" fill="#333" stroke="#333" stroke-width="0.3" textLength="21.0" lengthAdjust="spacing"><tspan font-size="10.1">PAC</tspan></text>
<text x="313.5" y="713.7" class="t" font-weight="500" font-size="9.0" fill="#333" stroke="#333" stroke-width="0.3" textLength="29.5" lengthAdjust="spacing">制备池</text>
<text x="362.4" y="701.2" class="t" font-weight="500" font-size="9.0" fill="#333" stroke="#333" stroke-width="0.3" textLength="22.6" lengthAdjust="spacing"><tspan font-size="10.1">PAM</tspan></text>
<text x="359" y="711.5" class="t" font-weight="500" font-size="9.0" fill="#333" stroke="#333" stroke-width="0.3" textLength="28.8" lengthAdjust="spacing">制备池</text>
<text x="432" y="735.6" class="t" font-weight="500" font-size="8.8" fill="#333" stroke="#333" stroke-width="0.3" textLength="26.0" lengthAdjust="spacing">给料泵</text>
<text x="511.6" y="747.0" class="t" font-weight="500" font-size="9.0" fill="#333" stroke="#333" stroke-width="0.3" textLength="49.4" lengthAdjust="spacing">消化储存池</text>
<text x="338.7" y="764.8" class="t" font-weight="500" font-size="9.0" fill="#333" stroke="#333" stroke-width="0.3" textLength="28.0" lengthAdjust="spacing">刮泥机</text>
<text x="263" y="780.7" class="t" font-weight="500" font-size="9.0" fill="#333" stroke="#333" stroke-width="0.3" textLength="47.8" lengthAdjust="spacing">平流沉淀池</text>
<text x="375.5" y="778.7" class="t" font-weight="500" font-size="9.0" fill="#333" stroke="#333" stroke-width="0.3" textLength="48.9" lengthAdjust="spacing">再生反应池</text>
<text x="210" y="790.2" class="t" font-weight="500" font-size="9.0" fill="#333" stroke="#333" stroke-width="0.3" textLength="30.0" lengthAdjust="spacing">清水池</text>
<text x="536.8" y="811.0" class="t" font-weight="500" font-size="9.0" fill="#333" stroke="#333" stroke-width="0.3" textLength="39.4" lengthAdjust="spacing">罗茨风机</text>
<text x="143" y="828.9" class="t" font-weight="500" font-size="9.0" fill="#333" stroke="#333" stroke-width="0.3" textLength="50.0" lengthAdjust="spacing">浆液循环泵</text>
<text x="505.5" y="831.7" class="t" font-weight="500" font-size="9.0" fill="#333" stroke="#333" stroke-width="0.3" textLength="101.5" lengthAdjust="spacing">锅炉冲渣水、冷凝水、</text>
<text x="526.3" y="843.0" class="t" font-weight="500" font-size="9.0" fill="#333" stroke="#333" stroke-width="0.3" textLength="59.0" lengthAdjust="spacing">软化水等废水</text>
<text x="222" y="871.8" class="t" font-weight="500" font-size="9.0" fill="#333" stroke="#333" stroke-width="0.3" textLength="28.5" lengthAdjust="spacing">压滤机</text>
<text x="300" y="879.7" class="t" font-weight="500" font-size="9.0" fill="#333" stroke="#333" stroke-width="0.3" textLength="59.4" lengthAdjust="spacing">压滤机给料泵</text>
<text x="532.7" y="882.0" class="t" font-weight="500" font-size="9.0" fill="#333" stroke="#333" stroke-width="0.3" textLength="28.6" lengthAdjust="spacing">自来水</text>
</g>
</svg></body></html>
